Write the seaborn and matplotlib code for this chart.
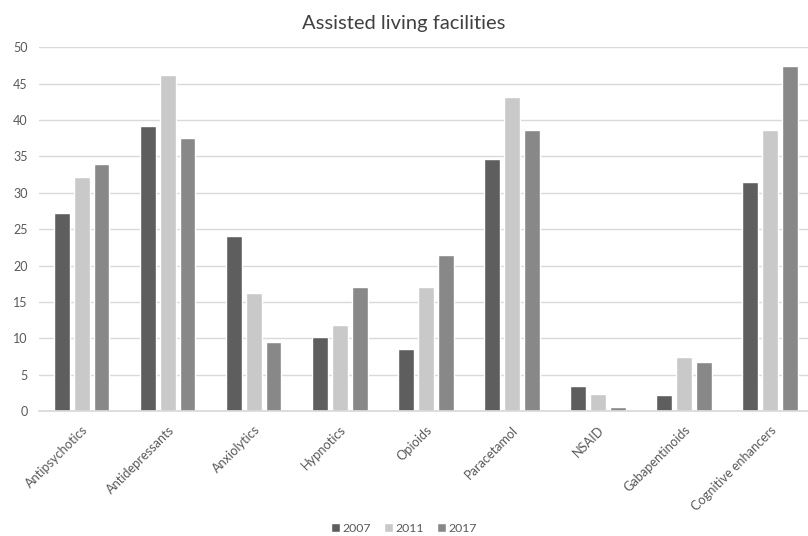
import matplotlib
matplotlib.use("Agg")
import matplotlib.pyplot as plt
import seaborn as sns
import pandas as pd

categories = ["Antipsychotics", "Antidepressants", "Anxiolytics", "Hypnotics",
              "Opioids", "Paracetamol", "NSAID", "Gabapentinoids", "Cognitive enhancers"]
years = ["2007", "2011", "2017"]
v2007 = [27.2, 39.2, 24.1, 10.2, 8.5, 34.6, 3.4, 2.2, 31.5]
v2011 = [32.1, 46.2, 16.2, 11.8, 17.1, 43.1, 2.3, 7.4, 38.6]
v2017 = [34.0, 37.5, 9.5, 17.1, 21.5, 38.6, 0.5, 6.8, 47.4]
yticks = [0, 5, 10, 15, 20, 25, 30, 35, 40, 45, 50]
colors = ["#5e5e5e", "#c9c9c9", "#888888"]

df = pd.DataFrame({
    "category": categories * 3,
    "year": [y for y in years for _ in categories],
    "value": v2007 + v2011 + v2017,
})

sns.set_theme(style="white")
plt.rcParams["font.family"] = ["Lato", "DejaVu Sans"]

fig = plt.figure(figsize=(8.08, 5.36), dpi=100)
ax = fig.add_axes([0.048, 0.233, 0.958, 0.679])

sns.barplot(data=df, x="category", y="value", hue="year", hue_order=years,
            palette=colors, width=0.69, gap=0.2, saturation=1, ax=ax,
            order=categories, legend=True)

ax.set_ylim(0, 50)
ax.set_yticks(yticks)
ax.set_yticklabels([str(t) for t in yticks], fontsize=9, color="#595959")
ax.yaxis.grid(True, color="#d9d9d9", linewidth=1)
ax.set_axisbelow(True)
for s in ["top", "right", "left"]:
    ax.spines[s].set_visible(False)
ax.spines["bottom"].set_color("#d9d9d9")
ax.tick_params(axis="y", length=0, pad=8)
ax.tick_params(axis="x", length=0, pad=9)
ax.set_xlabel("")
ax.set_ylabel("")
ax.set_xticks(range(len(categories)))
ax.set_xticklabels(categories, rotation=45, ha="right", rotation_mode="anchor",
                   fontsize=9.2, color="#595959")
ax.set_xlim(-0.5, len(categories) - 0.5)

fig.text(0.5, 0.957, "Assisted living facilities", ha="center", va="center",
         fontsize=14.5, color="#404040")

handles, labels = ax.get_legend_handles_labels()
ax.legend_.remove()
fig.legend(handles, labels, loc="center", bbox_to_anchor=(0.5, 0.014), ncol=3,
           frameon=False, fontsize=8.8, handlelength=0.75, handleheight=0.75,
           handletextpad=0.25, columnspacing=1.0, labelcolor="#595959",
           borderpad=0)

fig.savefig("out.png", dpi=100)
